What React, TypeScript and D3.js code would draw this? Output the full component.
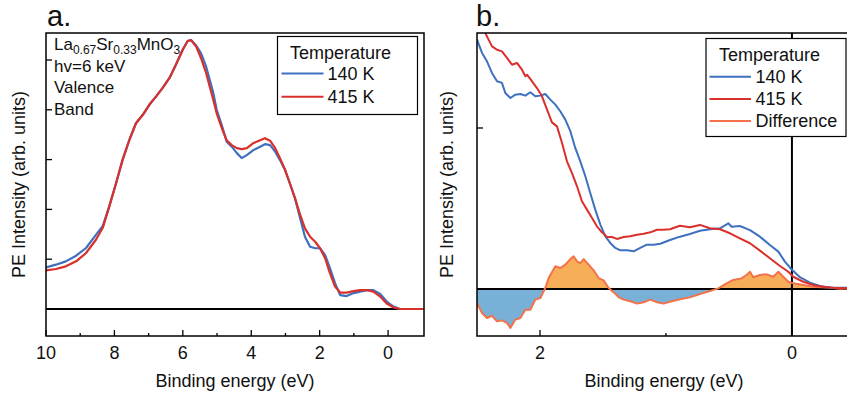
import React from "react";
import * as d3 from "d3";

type Pt = [number, number];

// ---------- data ----------
const majorTicksA = [10, 8, 6, 4, 2, 0];
const minorTicksA = [9, 7, 5, 3, 1];
const yTicksA = [1, 2, 3, 4, 5];
const majorTicksB = [2, 0];
const minorTicksB = [1];
const yTicksB = [1];

const legendTitle = "Temperature";
const seriesNames = ["140 K", "415 K", "Difference"];
const sampleLines = ["hv=6 keV", "Valence", "Band"];

// Panel a: valence band, binding energy (eV) vs intensity (arb. units)
const aBlue: Pt[] = [
  [10, 0.837], [9.71, 0.89], [9.42, 0.957], [9.12, 1.07], [8.83, 1.225], [8.54, 1.49], [8.34, 1.67],
  [8.15, 2.06], [7.95, 2.53], [7.76, 3.0], [7.56, 3.4], [7.37, 3.73], [7.17, 3.9], [6.98, 4.1],
  [6.78, 4.27], [6.59, 4.44], [6.39, 4.64], [6.2, 4.91], [6.0, 5.21], [5.86, 5.38], [5.76, 5.4],
  [5.61, 5.29], [5.47, 5.14], [5.32, 4.87], [5.11, 4.34], [5.01, 4.0], [4.86, 3.69], [4.72, 3.36],
  [4.57, 3.26], [4.42, 3.13], [4.28, 3.03], [4.13, 3.09], [3.94, 3.19], [3.74, 3.26], [3.6, 3.31],
  [3.45, 3.29], [3.3, 3.16], [3.16, 2.99], [3.01, 2.79], [2.87, 2.52], [2.72, 2.22], [2.57, 1.82],
  [2.43, 1.45], [2.28, 1.25], [2.13, 1.22], [1.99, 1.22], [1.84, 1.08], [1.7, 0.82], [1.55, 0.52],
  [1.4, 0.28], [1.21, 0.26], [1.01, 0.32], [0.82, 0.35], [0.62, 0.38], [0.43, 0.38], [0.23, 0.3],
  [0.04, 0.15], [-0.16, 0.05], [-0.35, 0], [-1.05, 0],
];
const aRed: Pt[] = [
  [10, 0.777], [9.71, 0.803], [9.42, 0.857], [9.12, 0.957], [8.83, 1.124], [8.54, 1.39], [8.34, 1.63],
  [8.15, 2.06], [7.95, 2.53], [7.76, 3.0], [7.56, 3.4], [7.37, 3.73], [7.17, 3.9], [6.98, 4.1],
  [6.78, 4.27], [6.59, 4.44], [6.39, 4.64], [6.2, 4.91], [6.0, 5.21], [5.86, 5.38], [5.76, 5.4],
  [5.61, 5.27], [5.47, 5.04], [5.32, 4.74], [5.11, 4.2], [5.01, 3.93], [4.86, 3.63], [4.72, 3.39],
  [4.57, 3.29], [4.42, 3.23], [4.28, 3.21], [4.13, 3.23], [3.94, 3.33], [3.74, 3.39], [3.6, 3.43],
  [3.45, 3.38], [3.3, 3.23], [3.16, 3.03], [3.01, 2.79], [2.87, 2.52], [2.72, 2.22], [2.57, 1.89],
  [2.43, 1.62], [2.28, 1.45], [2.13, 1.35], [1.99, 1.22], [1.84, 1.02], [1.7, 0.72], [1.55, 0.45],
  [1.4, 0.33], [1.21, 0.33], [1.01, 0.36], [0.82, 0.38], [0.62, 0.38], [0.43, 0.35], [0.23, 0.25],
  [0.04, 0.11], [-0.16, 0.03], [-0.35, 0], [-1.05, 0],
];

// Panel b: near the Fermi level
const bBlue: Pt[] = [
  [2.5, 1.549], [2.46, 1.466], [2.421, 1.414], [2.381, 1.342], [2.341, 1.29], [2.302, 1.28],
  [2.275, 1.217], [2.235, 1.186], [2.196, 1.207], [2.156, 1.211], [2.116, 1.201], [2.077, 1.222],
  [2.037, 1.197], [1.997, 1.201], [1.958, 1.211], [1.918, 1.176], [1.878, 1.145], [1.839, 1.104],
  [1.799, 1.052], [1.759, 0.98], [1.72, 0.876], [1.68, 0.793], [1.64, 0.7], [1.601, 0.596],
  [1.561, 0.493], [1.521, 0.4], [1.481, 0.327], [1.442, 0.286], [1.402, 0.255], [1.362, 0.24],
  [1.31, 0.24], [1.257, 0.234], [1.204, 0.255], [1.151, 0.275], [1.098, 0.275], [1.045, 0.281],
  [0.968, 0.304], [0.889, 0.325], [0.81, 0.342], [0.73, 0.362], [0.651, 0.371], [0.571, 0.377],
  [0.505, 0.408], [0.479, 0.387], [0.413, 0.391], [0.333, 0.366], [0.254, 0.325], [0.175, 0.273],
  [0.108, 0.232], [0.056, 0.17], [0.003, 0.122], [-0.063, 0.073], [-0.143, 0.039], [-0.222, 0.019],
  [-0.302, 0.01], [-0.45, 0.007],
];
const bRed: Pt[] = [
  [2.5, 1.66], [2.434, 1.59], [2.421, 1.569], [2.381, 1.507], [2.341, 1.486], [2.302, 1.476],
  [2.262, 1.435], [2.222, 1.393], [2.183, 1.404], [2.143, 1.362], [2.116, 1.321], [2.103, 1.331],
  [2.063, 1.29], [2.024, 1.248], [1.984, 1.197], [1.944, 1.114], [1.905, 1.035], [1.865, 1.01],
  [1.825, 0.907], [1.786, 0.793], [1.746, 0.72], [1.706, 0.638], [1.667, 0.545], [1.627, 0.493],
  [1.587, 0.441], [1.548, 0.389], [1.508, 0.352], [1.468, 0.323], [1.429, 0.323], [1.389, 0.311],
  [1.336, 0.323], [1.283, 0.327], [1.23, 0.337], [1.177, 0.343], [1.124, 0.352], [1.071, 0.368],
  [1.019, 0.368], [0.968, 0.371], [0.889, 0.393], [0.81, 0.383], [0.73, 0.398], [0.651, 0.377],
  [0.571, 0.371], [0.492, 0.346], [0.413, 0.315], [0.333, 0.284], [0.254, 0.238], [0.175, 0.191],
  [0.095, 0.143], [0.029, 0.107], [-0.01, 0.076], [-0.09, 0.045], [-0.169, 0.025], [-0.249, 0.014],
  [-0.328, 0.007], [-0.45, 0.004],
];
const bDiff: Pt[] = [
  [2.5, -0.087], [2.46, -0.149], [2.421, -0.18], [2.381, -0.166], [2.341, -0.201], [2.302, -0.195],
  [2.262, -0.211], [2.235, -0.242], [2.196, -0.19], [2.156, -0.18], [2.116, -0.129], [2.077, -0.129],
  [2.037, -0.066], [1.997, -0.056], [1.958, 0.006], [1.931, 0.068], [1.878, 0.141], [1.839, 0.13],
  [1.799, 0.151], [1.759, 0.186], [1.733, 0.203], [1.706, 0.172], [1.68, 0.161], [1.653, 0.186],
  [1.614, 0.151], [1.574, 0.116], [1.534, 0.068], [1.495, 0.054], [1.455, 0.006], [1.415, -0.021],
  [1.376, -0.05], [1.336, -0.066], [1.283, -0.076], [1.23, -0.091], [1.177, -0.083], [1.124, -0.066],
  [1.071, -0.083], [1.019, -0.091], [0.968, -0.079], [0.889, -0.064], [0.81, -0.052], [0.73, -0.031],
  [0.651, -0.012], [0.585, 0.004], [0.518, 0.035], [0.466, 0.056], [0.4, 0.066], [0.36, 0.087],
  [0.333, 0.107], [0.307, 0.073], [0.254, 0.087], [0.201, 0.091], [0.148, 0.076], [0.108, 0.107],
  [0.069, 0.076], [0.029, 0.045], [-0.01, 0.035], [-0.09, 0.025], [-0.169, 0.014], [-0.275, 0.01],
  [-0.381, 0.002], [-0.45, 0.003],
];

// ---------- styles ----------
const FONT = "'Liberation Sans', Arial, Helvetica, sans-serif";
const BLUE = "#3e70c0";
const RED = "#d9302c";
const DIFF = "#f37249";
const POS_FILL = "#f7ae58";
const NEG_FILL = "#79b0d8";

const W = 847;
const H = 396;
const TOP = 33;
const BOTTOM = 336;

export default function App() {
  // panel a scales
  const xA = d3.scaleLinear().domain([10, -1.05]).range([46, 424]);
  const yA = d3.scaleLinear().domain([-0.542, 5.542]).range([BOTTOM, TOP]);
  // panel b scales
  const xB = d3.scaleLinear().domain([2.5, -0.445]).range([477, 848]);
  const yB = d3.scaleLinear().domain([-0.292, 1.59]).range([BOTTOM, TOP]);

  const lineA = d3.line<Pt>().x((d) => xA(d[0])).y((d) => yA(d[1]));
  const lineB = d3.line<Pt>().x((d) => xB(d[0])).y((d) => yB(d[1]));
  const areaB = d3
    .area<Pt>()
    .x((d) => xB(d[0]))
    .y0(yB(0))
    .y1((d) => yB(d[1]));

  const [ax0, ax1] = xA.range();
  const [bx0, bx1] = xB.range();

  const tickStyle = { stroke: "#000", strokeWidth: 1.3 };
  const labelStyle: React.CSSProperties = { fontFamily: FONT, fontSize: 18, fill: "#111" };

  return (
    <svg
      width={W}
      height={H}
      viewBox={`0 0 ${W} ${H}`}
      style={{ position: "fixed", left: 0, top: 0, background: "#fff" }}
    >
      <defs>
        <clipPath id="clipA">
          <rect x={ax0} y={TOP} width={ax1 - ax0} height={BOTTOM - TOP} />
        </clipPath>
        <clipPath id="clipB">
          <rect x={bx0} y={TOP} width={bx1 - bx0} height={BOTTOM - TOP} />
        </clipPath>
        <clipPath id="clipPos">
          <rect x={bx0} y={TOP} width={bx1 - bx0} height={yB(0) - TOP} />
        </clipPath>
        <clipPath id="clipNeg">
          <rect x={bx0} y={yB(0)} width={bx1 - bx0} height={BOTTOM - yB(0)} />
        </clipPath>
      </defs>

      {/* ================= Panel a ================= */}
      <text x={47} y={26} style={{ fontFamily: FONT, fontSize: 29, fill: "#111" }}>a.</text>

      {/* ticks */}
      {majorTicksA.map((t) => (
        <g key={"am" + t}>
          <line x1={xA(t)} x2={xA(t)} y1={BOTTOM} y2={BOTTOM - 6} {...tickStyle} />
          <text x={xA(t)} y={359} textAnchor="middle" style={labelStyle}>{t}</text>
        </g>
      ))}
      {minorTicksA.map((t) => (
        <line key={"an" + t} x1={xA(t)} x2={xA(t)} y1={BOTTOM} y2={BOTTOM - 3} {...tickStyle} />
      ))}
      {yTicksA.map((t) => (
        <line key={"ay" + t} x1={ax0} x2={ax0 + 6} y1={yA(t)} y2={yA(t)} {...tickStyle} />
      ))}

      {/* zero line */}
      <line x1={ax0} x2={ax1} y1={yA(0)} y2={yA(0)} stroke="#000" strokeWidth={2} />

      <g clipPath="url(#clipA)">
        <path d={lineA(aBlue) || ""} fill="none" stroke={BLUE} strokeWidth={2.2} strokeLinejoin="round" />
        <path d={lineA(aRed) || ""} fill="none" stroke={RED} strokeWidth={2.2} strokeLinejoin="round" />
      </g>

      <rect x={ax0} y={TOP} width={ax1 - ax0} height={BOTTOM - TOP} fill="none" stroke="#000" strokeWidth={1.5} />

      {/* sample annotation */}
      <text x={54} y={50} style={{ fontFamily: FONT, fontSize: 17, fill: "#111" }}>
        La<tspan fontSize={12} dy={4}>0.67</tspan>
        <tspan dy={-4}>Sr</tspan>
        <tspan fontSize={12} dy={4}>0.33</tspan>
        <tspan dy={-4}>MnO</tspan>
        <tspan fontSize={12} dy={4}>3</tspan>
      </text>
      {sampleLines.map((s, i) => (
        <text key={s} x={54} y={71.5 + i * 21.5} style={{ fontFamily: FONT, fontSize: 17, fill: "#111" }}>
          {s}
        </text>
      ))}

      {/* legend a */}
      <g>
        <rect x={277.5} y={36.5} width={140} height={78} fill="#fff" stroke="#000" strokeWidth={1.2} />
        <text x={340.5} y={58.5} textAnchor="middle" style={labelStyle}>{legendTitle}</text>
        {[BLUE, RED].map((c, i) => (
          <g key={c}>
            <line x1={281.5} x2={323.5} y1={73.5 + i * 23.2} y2={73.5 + i * 23.2} stroke={c} strokeWidth={2} />
            <text x={327.5} y={80 + i * 23} style={labelStyle}>{seriesNames[i]}</text>
          </g>
        ))}
      </g>

      {/* axis titles a */}
      <text x={(ax0 + ax1) / 2} y={387} textAnchor="middle" style={labelStyle}>Binding energy (eV)</text>
      <text
        transform={`translate(25, ${(TOP + BOTTOM) / 2}) rotate(-90)`}
        textAnchor="middle"
        style={labelStyle}
      >
        PE Intensity (arb. units)
      </text>

      {/* ================= Panel b ================= */}
      <text x={476} y={26} style={{ fontFamily: FONT, fontSize: 29, fill: "#111" }}>b.</text>

      {majorTicksB.map((t) => (
        <g key={"bm" + t}>
          <line x1={xB(t)} x2={xB(t)} y1={BOTTOM} y2={BOTTOM - 6} {...tickStyle} />
          <text x={xB(t)} y={359} textAnchor="middle" style={labelStyle}>{t}</text>
        </g>
      ))}
      {minorTicksB.map((t) => (
        <line key={"bn" + t} x1={xB(t)} x2={xB(t)} y1={BOTTOM} y2={BOTTOM - 3} {...tickStyle} />
      ))}
      {yTicksB.map((t) => (
        <line key={"by" + t} x1={bx0} x2={bx0 + 6} y1={yB(t)} y2={yB(t)} {...tickStyle} />
      ))}

      <g clipPath="url(#clipB)">
        <path d={areaB(bDiff) || ""} fill={POS_FILL} clipPath="url(#clipPos)" />
        <path d={areaB(bDiff) || ""} fill={NEG_FILL} clipPath="url(#clipNeg)" />
      </g>

      {/* zero lines */}
      <line x1={bx0} x2={bx1} y1={yB(0)} y2={yB(0)} stroke="#000" strokeWidth={2} />
      <line x1={xB(0)} x2={xB(0)} y1={TOP} y2={BOTTOM} stroke="#000" strokeWidth={2} />

      <g clipPath="url(#clipB)">
        <path d={lineB(bDiff) || ""} fill="none" stroke={DIFF} strokeWidth={2} strokeLinejoin="round" />
        <path d={lineB(bBlue) || ""} fill="none" stroke={BLUE} strokeWidth={2} strokeLinejoin="round" />
        <path d={lineB(bRed) || ""} fill="none" stroke={RED} strokeWidth={2} strokeLinejoin="round" />
      </g>

      <rect x={bx0} y={TOP} width={bx1 - bx0} height={BOTTOM - TOP} fill="none" stroke="#000" strokeWidth={1.5} />

      {/* legend b */}
      <g>
        <rect x={706} y={38.5} width={140} height={98} fill="#fff" stroke="#000" strokeWidth={1.2} />
        <text x={769.5} y={61} textAnchor="middle" style={labelStyle}>{legendTitle}</text>
        {[BLUE, RED, DIFF].map((c, i) => (
          <g key={c}>
            <line x1={709.5} x2={751} y1={76.7 + i * 22.2} y2={76.7 + i * 22.2} stroke={c} strokeWidth={2} />
            <text x={755.5} y={83.3 + i * 22} style={labelStyle}>{seriesNames[i]}</text>
          </g>
        ))}
      </g>

      <text x={(bx0 + 847) / 2 + 2} y={387} textAnchor="middle" style={labelStyle}>Binding energy (eV)</text>
      <text
        transform={`translate(453, ${(TOP + BOTTOM) / 2}) rotate(-90)`}
        textAnchor="middle"
        style={labelStyle}
      >
        PE Intensity (arb. units)
      </text>
    </svg>
  );
}
